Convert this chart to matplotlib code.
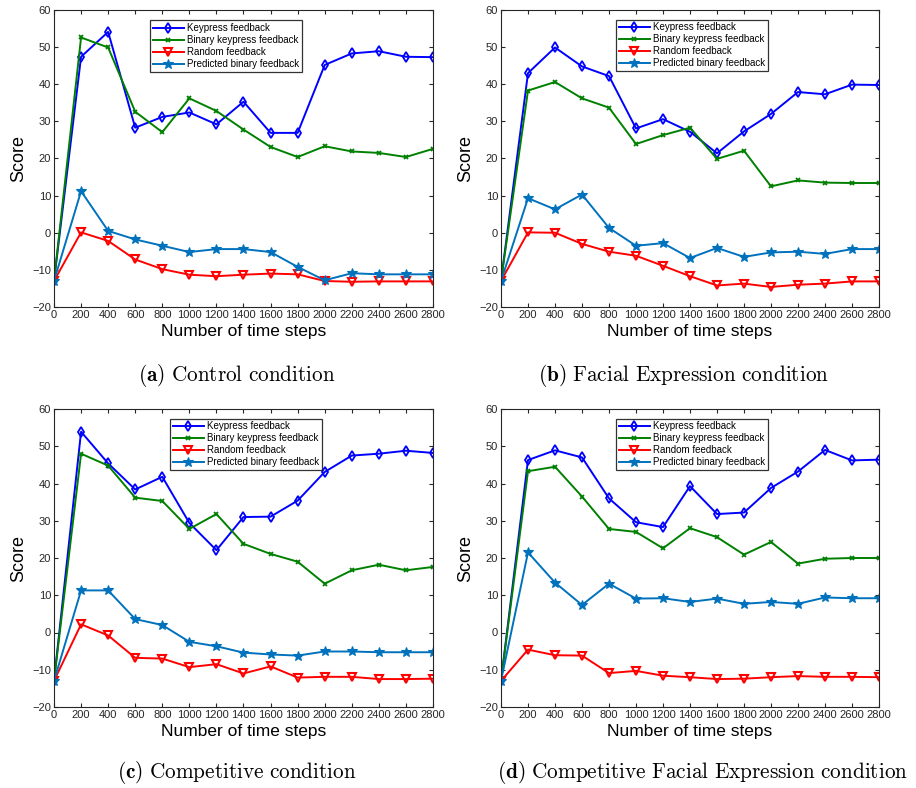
import matplotlib
matplotlib.use("Agg")
import matplotlib.pyplot as plt
import numpy as np

plt.rcParams['font.family'] = ['Liberation Sans', 'DejaVu Sans']
plt.rcParams['mathtext.fontset'] = 'cm'

steps = [0, 200, 400, 600, 800, 1000, 1200, 1400, 1600, 1800, 2000, 2200, 2400, 2600, 2800]
series_names = ["Keypress feedback", "Binary keypress feedback", "Random feedback", "Predicted binary feedback"]

# (a) Control condition
a_keypress = [-13, 47.4, 54.1, 28.3, 31.2, 32.4, 29.2, 35.3, 26.9, 26.9, 45.2, 48.3, 48.9, 47.4, 47.3]
a_binary = [-13, 52.6, 49.9, 32.6, 27.1, 36.2, 32.8, 27.8, 23.1, 20.4, 23.3, 21.9, 21.5, 20.4, 22.6]
a_random = [-13, 0.1, -2.2, -7.2, -9.8, -11.3, -11.7, -11.3, -11.0, -11.2, -13.0, -13.2, -13.1, -13.1, -13.1]
a_predicted = [-13, 11.2, 0.5, -1.8, -3.5, -5.2, -4.4, -4.4, -5.2, -9.2, -12.8, -10.9, -11.2, -11.2, -11.2]

# (b) Facial Expression condition
b_keypress = [-13, 43.0, 49.9, 44.8, 42.2, 28.1, 30.6, 27.2, 21.4, 27.3, 32.0, 37.9, 37.3, 39.9, 39.8]
b_binary = [-13, 38.3, 40.6, 36.2, 33.7, 23.9, 26.3, 28.3, 19.9, 22.1, 12.5, 14.1, 13.5, 13.4, 13.4]
b_random = [-13, 0.1, 0.0, -3.0, -5.1, -6.2, -8.9, -11.7, -14.2, -13.7, -14.6, -14.0, -13.7, -13.1, -13.1]
b_predicted = [-13, 9.3, 6.3, 10.3, 1.3, -3.5, -2.8, -6.8, -4.1, -6.5, -5.3, -5.1, -5.7, -4.4, -4.4]

# (c) Competitive condition
c_keypress = [-13, 53.9, 45.4, 38.4, 41.8, 29.4, 22.1, 31.0, 31.1, 35.4, 43.1, 47.5, 48.0, 48.8, 48.2]
c_binary = [-13, 48.0, 44.8, 36.2, 35.3, 27.8, 31.8, 23.8, 21.1, 19.0, 13.1, 16.7, 18.2, 16.7, 17.6]
c_random = [-13, 2.2, -0.8, -6.8, -7.0, -9.3, -8.5, -11.0, -9.1, -12.1, -11.9, -11.9, -12.5, -12.5, -12.4]
c_predicted = [-13, 11.3, 11.3, 3.6, 2.0, -2.5, -3.7, -5.4, -5.9, -6.2, -5.1, -5.1, -5.3, -5.3, -5.3]

# (d) Competitive Facial Expression condition
d_keypress = [-13, 46.3, 48.9, 47.0, 36.0, 29.6, 28.3, 39.3, 31.8, 32.2, 38.8, 43.2, 49.0, 46.2, 46.4]
d_binary = [-13, 43.3, 44.5, 36.5, 27.8, 27.0, 22.6, 28.0, 25.6, 20.9, 24.3, 18.5, 19.8, 20.0, 20.0]
d_random = [-13, -4.6, -6.1, -6.2, -10.9, -10.3, -11.6, -12.0, -12.5, -12.4, -12.0, -11.7, -11.9, -11.9, -12.0]
d_predicted = [-13, 21.5, 13.4, 7.4, 13.1, 9.1, 9.2, 8.2, 9.1, 7.7, 8.2, 7.7, 9.4, 9.2, 9.2]

panels = [
    ("a", "Control condition", [a_keypress, a_binary, a_random, a_predicted]),
    ("b", "Facial Expression condition", [b_keypress, b_binary, b_random, b_predicted]),
    ("c", "Competitive condition", [c_keypress, c_binary, c_random, c_predicted]),
    ("d", "Competitive Facial Expression condition", [d_keypress, d_binary, d_random, d_predicted]),
]

styles = [
    dict(color='#0000ff', marker='d', markersize=5.5, fillstyle='none', markeredgewidth=1.3),
    dict(color='#008000', marker='x', markersize=3.5, markeredgewidth=1.3),
    dict(color='#ff0000', marker='v', markersize=5.5, fillstyle='none', markeredgewidth=1.5),
    dict(color='#0072bd', marker='*', markersize=7.5, markeredgewidth=0.8),
]

W, H = 916, 788
fig = plt.figure(figsize=(W / 100, H / 100), dpi=100)

ax_px = [(54, 10, 433, 307), (501, 10, 879, 307), (54, 409, 433, 707), (501, 409, 879, 707)]
leg_pos = [(0.253, 0.965), (0.304, 0.968), (0.306, 0.968), (0.304, 0.968)]
cap_pos = [(237, 375), (684, 375), (237, 773), (703, 773)]

for i, (letter, title, data) in enumerate(panels):
    l, t, r, b = ax_px[i]
    ax = fig.add_axes([l / W, 1 - b / H, (r - l) / W, (b - t) / H])
    for name, ys, st in zip(series_names, data, styles):
        ax.plot(steps, ys, linewidth=1.4, label=name, **st)
    ax.set_xlim(0, 2800)
    ax.set_ylim(-20, 60)
    ax.set_xticks(steps)
    ax.set_yticks(np.arange(-20, 61, 10))
    ax.tick_params(direction='in', top=True, right=True, labelsize=8, length=3,
                   colors='#262626', labelcolor='#262626', width=0.8, pad=2)
    for sp in ax.spines.values():
        sp.set_color('#262626')
        sp.set_linewidth(0.8)
    ax.set_xlabel("Number of time steps", fontsize=12.5, labelpad=3)
    ax.set_ylabel("Score", fontsize=13, labelpad=4)
    leg = ax.legend(loc='upper left', bbox_to_anchor=leg_pos[i], fontsize=7,
                    frameon=True, fancybox=False, edgecolor='black',
                    labelspacing=0.2, handlelength=3.2, handletextpad=0.3,
                    borderpad=0.3, borderaxespad=0)
    leg.get_frame().set_linewidth(0.9)
    cx, cy = cap_pos[i]
    words = title.replace(" ", r"\ ")
    fig.text(cx / W, 1 - cy / H, r"$\mathbf{(" + letter + r")}\ \mathrm{" + words + "}$",
             ha='center', va='center', fontsize=15.3)

fig.savefig("out.png", dpi=100)
